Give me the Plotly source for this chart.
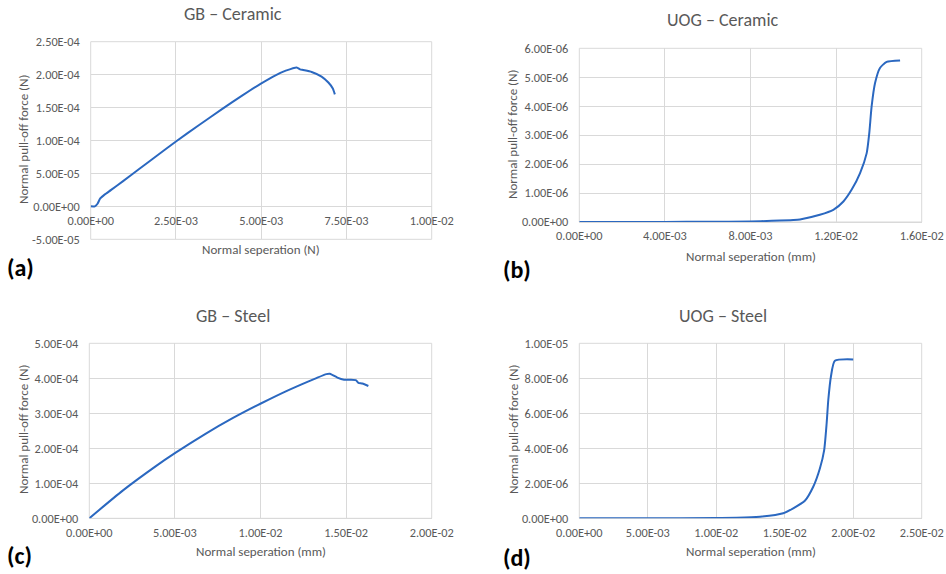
import plotly.graph_objects as go

W, H = 946, 574

# ---------------- data ----------------
a_x = [0, 0.12e-3, 0.2e-3, 0.28e-3, 0.4e-3, 0.6e-3, 0.94e-3, 1.43e-3, 1.92e-3, 2.5e-3, 3.18e-3,
       3.86e-3, 4.45e-3, 4.98e-3, 5.42e-3, 5.72e-3, 6.04e-3, 6.14e-3, 6.23e-3, 6.48e-3,
       6.77e-3, 6.97e-3, 7.10e-3, 7.16e-3]
a_y = [0, 0, 0.4e-5, 1.2e-5, 1.75e-5, 2.5e-5, 3.8e-5, 5.7e-5, 7.6e-5, 9.85e-5, 1.235e-4,
       1.48e-4, 1.685e-4, 1.86e-4, 1.99e-4, 2.06e-4, 2.11e-4, 2.08e-4, 2.07e-4, 2.04e-4,
       1.97e-4, 1.88e-4, 1.79e-4, 1.70e-4]

b_x = [0, 2e-3, 4e-3, 6e-3, 8e-3, 9e-3, 10e-3, 10.31e-3, 11.24e-3, 11.87e-3, 12.34e-3,
       12.73e-3, 13.12e-3, 13.43e-3, 13.55e-3, 13.66e-3, 13.82e-3, 14.05e-3, 14.36e-3, 14.99e-3]
b_y = [0, 0.001e-6, 0.003e-6, 0.008e-6, 0.02e-6, 0.04e-6, 0.07e-6, 0.09e-6, 0.25e-6, 0.42e-6,
       0.71e-6, 1.12e-6, 1.69e-6, 2.38e-6, 3.07e-6, 3.99e-6, 4.8e-6, 5.32e-6, 5.53e-6, 5.58e-6]

c_x = [0, 1.95e-3, 3.89e-3, 5.0e-3, 6.81e-3, 8.37e-3, 10.02e-3, 11.67e-3, 13.23e-3, 13.85e-3,
       14.05e-3, 14.49e-3, 14.88e-3, 15.56e-3, 15.72e-3, 15.95e-3, 16.3e-3]
c_y = [0, 0.79e-4, 1.49e-4, 1.86e-4, 2.42e-4, 2.86e-4, 3.28e-4, 3.67e-4, 4.0e-4, 4.12e-4,
       4.13e-4, 4.02e-4, 3.96e-4, 3.95e-4, 3.87e-4, 3.85e-4, 3.78e-4]

d_x = [0, 5e-3, 10e-3, 11.5e-3, 13.19e-3, 14.89e-3, 15.62e-3, 16.47e-3, 17.08e-3, 17.57e-3,
       17.88e-3, 18.06e-3, 18.18e-3, 18.37e-3, 18.66e-3, 20.0e-3]
d_y = [0, 0.002e-6, 0.02e-6, 0.03e-6, 0.09e-6, 0.29e-6, 0.57e-6, 1.0e-6, 1.8e-6, 2.86e-6,
       3.9e-6, 5.43e-6, 6.76e-6, 8.09e-6, 9.0e-6, 9.08e-6]

a_xticks = [0, 2.5e-3, 5e-3, 7.5e-3, 1e-2]
a_yticks = [-5e-5, 0, 5e-5, 1e-4, 1.5e-4, 2e-4, 2.5e-4]
b_xticks = [0, 4e-3, 8e-3, 1.2e-2, 1.6e-2]
b_yticks = [0, 1e-6, 2e-6, 3e-6, 4e-6, 5e-6, 6e-6]
c_xticks = [0, 5e-3, 1e-2, 1.5e-2, 2e-2]
c_yticks = [0, 1e-4, 2e-4, 3e-4, 4e-4, 5e-4]
d_xticks = [0, 5e-3, 1e-2, 1.5e-2, 2e-2, 2.5e-2]
d_yticks = [0, 2e-6, 4e-6, 6e-6, 8e-6, 1e-5]

titles = ["GB – Ceramic", "UOG – Ceramic", "GB – Steel", "UOG – Steel"]
xlabels = ["Normal seperation (N)", "Normal seperation (mm)",
           "Normal seperation (mm)", "Normal seperation (mm)"]
ylabel = "Normal pull-off force (N)"
panel_labels = ["(a)", "(b)", "(c)", "(d)"]

# ---------------- style ----------------
FONT = "Carlito, Lato, sans-serif"
GRAY = "#595959"
GRID = "#d9d9d9"
LINE = "#2b68c0"

def fmt(v):
    return f"{v:.2E}"

def px_x(p):
    return p / W

def px_y(p):
    return 1 - p / H

# plot-area boxes in pixels: (left, right, top, bottom)
boxes = [(90.7, 431.7, 41.7, 239.3),
         (579.3, 921.7, 48.3, 222.0),
         (89.3, 431.7, 343.3, 518.3),
         (579.3, 921.7, 343.3, 518.3)]

datasets = [(a_x, a_y, a_xticks, a_yticks),
            (b_x, b_y, b_xticks, b_yticks),
            (c_x, c_y, c_xticks, c_yticks),
            (d_x, d_y, d_xticks, d_yticks)]

fig = go.Figure()
layout = dict(width=W, height=H, margin=dict(l=0, r=0, t=0, b=0, autoexpand=False),
              paper_bgcolor="white", plot_bgcolor="white", showlegend=False,
              font=dict(family=FONT, color=GRAY))
annotations = []
shapes = []

for i, ((xs, ys, xt, yt), (l, r, t, b)) in enumerate(zip(datasets, boxes)):
    n = "" if i == 0 else str(i + 1)
    fig.add_trace(go.Scatter(x=xs, y=ys, mode="lines",
                             line=dict(color=LINE, width=2, shape="spline", smoothing=0.6),
                             xaxis="x" + n, yaxis="y" + n, hoverinfo="skip"))
    yr = [yt[0], yt[-1]]
    xr = [xt[0], xt[-1]]
    # x axis crosses at y=0
    y0_px = b - (0 - yr[0]) / (yr[1] - yr[0]) * (b - t)
    layout["xaxis" + n] = dict(
        domain=[px_x(l), px_x(r)], range=xr, tickvals=xt, ticktext=[fmt(v) for v in xt],
        showgrid=True, gridcolor=GRID, gridwidth=1, zeroline=False, showline=False,
        anchor="free", position=px_y(y0_px), ticks="", ticklabelstandoff=5,
        automargin=False,
        tickfont=dict(size=12.3, color=GRAY, family=FONT), fixedrange=True)
    layout["yaxis" + n] = dict(
        domain=[px_y(b), px_y(t)], range=yr, tickvals=yt, ticktext=[fmt(v) for v in yt],
        showgrid=True, gridcolor=GRID, gridwidth=1, zeroline=True, zerolinecolor=GRID,
        zerolinewidth=1, showline=False, anchor="x" + n, ticks="", ticklabelstandoff=10,
        automargin=False,
        tickfont=dict(size=12.3, color=GRAY, family=FONT), fixedrange=True)
    shapes.append(dict(type="rect", xref="x" + n + " domain", yref="y" + n + " domain",
                       x0=0, x1=1, y0=0, y1=1, line=dict(color=GRID, width=1), layer="below"))
    cx = (l + r) / 2
    # title
    title_y = [14, 20, 316, 316][i]
    title_x = [233, 723, 233, 723][i]
    annotations.append(dict(text=titles[i], x=px_x(title_x), y=px_y(title_y), xref="paper",
                            yref="paper", showarrow=False, xanchor="center", yanchor="middle",
                            font=dict(size=18, color=GRAY, family=FONT)))
    # x axis title
    xt_y = [249.5, 256.5, 551.5, 551.5][i]
    annotations.append(dict(text=xlabels[i], x=px_x(cx), y=px_y(xt_y), xref="paper",
                            yref="paper", showarrow=False, xanchor="center", yanchor="middle",
                            font=dict(size=13, color=GRAY, family=FONT)))
    # y axis title
    yx = [23, 513, 23, 513][i]
    yy = [140, 135, 430, 430][i]
    annotations.append(dict(text=ylabel, x=px_x(yx), y=px_y(yy), xref="paper",
                            yref="paper", showarrow=False, xanchor="center", yanchor="middle",
                            textangle=-90, font=dict(size=13, color=GRAY, family=FONT)))
    # panel label
    px_ = [20, 517, 19, 517][i]
    py_ = [268, 269, 555, 557][i]
    annotations.append(dict(text="<b>" + panel_labels[i] + "</b>", x=px_x(px_), y=px_y(py_),
                            xref="paper", yref="paper", showarrow=False, xanchor="center",
                            yanchor="middle", font=dict(size=24, color="black", family=FONT)))

layout["annotations"] = annotations
layout["shapes"] = shapes
fig.update_layout(**layout)
fig.write_html("out.html")
